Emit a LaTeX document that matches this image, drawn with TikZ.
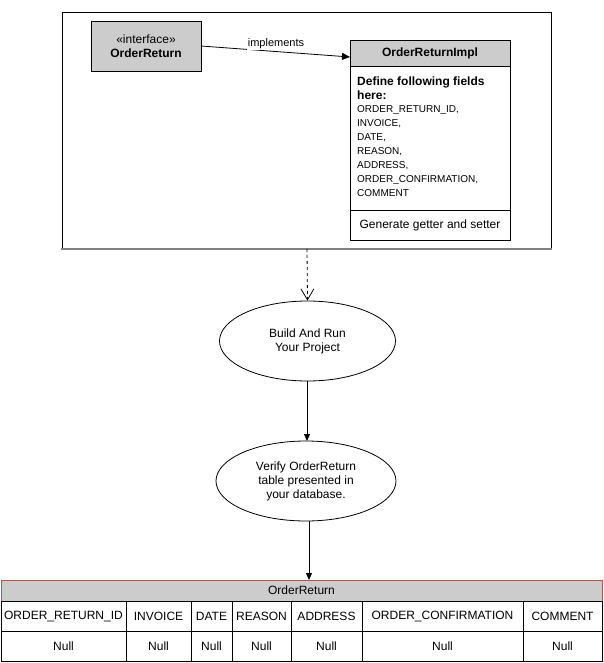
\documentclass[tikz,border=0pt]{standalone}
\usepackage{fontspec}
\setmainfont{Liberation Sans}
\usetikzlibrary{shapes.geometric,arrows.meta}
\definecolor{hdrgray}{HTML}{CCCCCC}
\definecolor{hdrred}{HTML}{B85450}
\definecolor{framegray}{HTML}{808080}
\begin{document}
\begin{tikzpicture}[x=1pt,y=-1pt,
  txt/.style={font=\fontsize{12}{14}\selectfont},
  small/.style={font=\fontsize{10}{14}\selectfont},
  cell/.style={draw=black,line width=0.8pt,minimum height=30pt,inner sep=0pt,font=\fontsize{12}{14}\selectfont},
  ell/.style={draw=black,ellipse,line width=0.8pt,inner sep=0pt,align=center,font=\fontsize{12}{14}\selectfont},
  conn/.style={draw=black,line width=0.8pt},
]
\useasboundingbox (0,0) rectangle (603,663);
% outer frame
\draw[line width=0.8pt] (62,249) -- (62,12) -- (551,12) -- (551,249);
\draw[framegray,line width=1.5pt] (61,249) -- (552,249);
\coordinate (framebot) at (307,249);
% interface
\node[draw,fill=hdrgray,line width=0.8pt,minimum width=110pt,minimum height=50pt,inner sep=0pt,align=center,font=\fontsize{12}{14}\selectfont] (iface) at (146,46) {«interface»\\\textbf{OrderReturn}};
% impl class
\node[draw,fill=hdrgray,line width=0.8pt,minimum width=160pt,minimum height=26pt,inner sep=0pt,font=\fontsize{12}{14}\selectfont\bfseries] (impl) at (430,53) {OrderReturnImpl};
\node[draw,line width=0.8pt,minimum width=160pt,minimum height=144pt,inner sep=0pt] (implbody) at (430,138) {};
\node[draw,line width=0.8pt,minimum width=160pt,minimum height=30pt,inner sep=0pt,txt] (implops) at (430,225) {Generate getter and setter};
\node[anchor=north west,align=left,inner sep=0pt,font=\fontsize{12}{14}\selectfont\bfseries] (fhead) at (357,76.5) {Define following fields\\here:};
\node[anchor=north west,align=left,inner sep=0pt,small] (flist) at (357,105.5) {ORDER\_RETURN\_ID,\\INVOICE,\\DATE,\\REASON,\\ADDRESS,\\ORDER\_CONFIRMATION,\\COMMENT};
% implements arrow
\coordinate (ia) at (201,46);
\coordinate (ib) at (350,57);
\draw[conn,-{Triangle[length=8pt,width=7pt]}] (ia) -- (ib);
\node[fill=white,inner sep=1pt,font=\fontsize{11}{13}\selectfont] (implab) at (276,44) {implements};
% ellipses
\node[ell,minimum width=176pt,minimum height=80pt] (build) at (307.5,341) {Build And Run\\Your Project};
\node[ell,minimum width=180pt,minimum height=80pt] (verify) at (306,481) {Verify OrderReturn\\table presented in\\your database.};
\coordinate (bs) at (307,381);
\coordinate (vn) at (307,441);
\draw[conn,dashed,-{Straight Barb[length=11pt,width=13pt,open]}] (framebot) -- (build.north);
\draw[conn,-{Triangle[length=7pt,width=6pt]}] (bs) -- (vn);
% table
\node[draw=hdrred,fill=hdrgray,line width=0.8pt,minimum width=601pt,minimum height=21pt,inner sep=0pt,txt] (thead) at (301.5,590.5) {OrderReturn};
\coordinate (vs) at (309,521);
\coordinate (tt) at (309,580);
\draw[conn,-{Triangle[length=7pt,width=6pt]}] (vs) -- (tt);
\node[cell,minimum width=125pt] (c1) at (63.5,616) {ORDER\_RETURN\_ID};
\node[cell,minimum width=65pt] (c2) at (158.5,616) {INVOICE};
\node[cell,minimum width=41pt] (c3) at (211.5,616) {DATE};
\node[cell,minimum width=59pt] (c4) at (261.5,616) {REASON};
\node[cell,minimum width=71pt] (c5) at (326.5,616) {ADDRESS};
\node[cell,minimum width=161pt] (c6) at (442.5,616) {ORDER\_CONFIRMATION};
\node[cell,minimum width=79pt] (c7) at (562.5,616) {COMMENT};
\node[cell,minimum width=125pt] (n1) at (63.5,646) {Null};
\node[cell,minimum width=65pt] (n2) at (158.5,646) {Null};
\node[cell,minimum width=41pt] (n3) at (211.5,646) {Null};
\node[cell,minimum width=59pt] (n4) at (261.5,646) {Null};
\node[cell,minimum width=71pt] (n5) at (326.5,646) {\raisebox{-1.5pt}{Null}};
\node[cell,minimum width=161pt] (n6) at (442.5,646) {Null};
\node[cell,minimum width=79pt] (n7) at (562.5,646) {Null};
\end{tikzpicture}
\end{document}
